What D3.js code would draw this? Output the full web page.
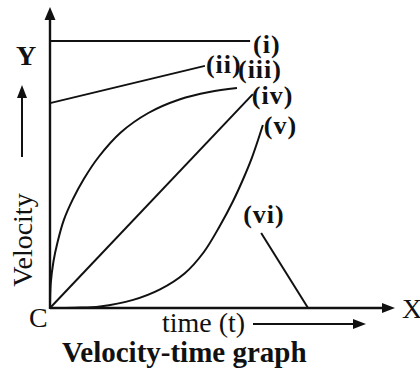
<!DOCTYPE html>
<html>
<head>
<meta charset="utf-8">
<script src="https://cdn.jsdelivr.net/npm/d3@7"></script>
<style>
  html, body { margin: 0; padding: 0; background: #fff; }
  svg { display: block; }
  text { font-family: "Liberation Serif", "Times New Roman", serif; fill: #111; }
</style>
</head>
<body>
<svg id="chart" width="420" height="371"></svg>
<script>
// Velocity (v) against time (t), arbitrary units
const curveNames = ["(i)", "(ii)", "(iii)", "(iv)", "(v)", "(vi)"];

// (i) constant velocity
const seriesI = [[0, 8.9], [5.8, 8.9]];
// (ii) uniform acceleration from a non-zero initial velocity
const seriesII = [[0, 6.83], [4.49, 8.07]];
// (iii) decreasing acceleration from rest
const seriesIII = [
  [0, 0], [0.02, 0.8], [0.1, 1.55], [0.22, 2.2], [0.4, 2.93], [0.66, 3.62],
  [0.98, 4.3], [1.42, 5.05], [2.05, 5.85], [2.85, 6.5], [3.75, 6.95],
  [4.62, 7.2], [5.42, 7.33]
];
// (iv) uniform acceleration from rest
const seriesIV = [[0, 0], [5.88, 7.13]];
// (v) increasing acceleration from rest
const seriesV = [
  [0, 0], [0.72, 0.01], [1.45, 0.05], [2.41, 0.27], [3.19, 0.62], [3.9, 1.15],
  [4.45, 1.85], [4.93, 2.75], [5.3, 3.55], [5.6, 4.3], [5.84, 4.97],
  [6.03, 5.6], [6.17, 6.1]
];
// (vi) uniform retardation
const seriesVI = [[6.12, 2.5], [7.48, 0]];

const axisTitleX = "time (t)";
const axisTitleY = "Velocity";
const chartTitle = "Velocity-time graph";

const svg = d3.select("#chart");
const x = d3.scaleLinear().domain([0, 10]).range([50, 395]);
const y = d3.scaleLinear().domain([0, 10]).range([308, 8]);
const ink = "#111";

// axes with arrowheads
svg.append("line").attr("x1", x(0)).attr("y1", y(0)).attr("x2", x(10) - 8).attr("y2", y(0))
  .attr("stroke", ink).attr("stroke-width", 2.4);
svg.append("line").attr("x1", x(0)).attr("y1", y(0) + 1).attr("x2", x(0)).attr("y2", y(10) + 8)
  .attr("stroke", ink).attr("stroke-width", 2.4);

function arrowHead(tx, ty, dir, len, half) {
  let p;
  if (dir === "right") p = [[tx, ty], [tx - len, ty - half], [tx - len, ty + half]];
  else p = [[tx, ty], [tx - half, ty + len], [tx + half, ty + len]];
  svg.append("path").attr("d", "M" + p.map(d => d.join(",")).join("L") + "Z").attr("fill", ink);
}
arrowHead(x(10), y(0), "right", 13, 5);
arrowHead(x(0), y(10) - 1, "up", 13, 5.5);

// curves
const line = d3.line().x(d => x(d[0])).y(d => y(d[1]));
const smooth = d3.line().x(d => x(d[0])).y(d => y(d[1])).curve(d3.curveCatmullRom.alpha(0.5));
const series = [
  { data: seriesI, gen: line, end: "last", dx: 3, dy: 12 },
  { data: seriesII, gen: line, end: "last", dx: 1, dy: 7 },
  { data: seriesIII, gen: smooth, end: "last", dx: 1, dy: -10 },
  { data: seriesIV, gen: line, end: "last", dx: -1, dy: 10 },
  { data: seriesV, gen: smooth, end: "last", dx: 1, dy: 9 },
  { data: seriesVI, gen: line, end: "first", dx: -18, dy: -10 }
];

series.forEach((s, i) => {
  svg.append("path").attr("d", s.gen(s.data))
    .attr("fill", "none").attr("stroke", ink).attr("stroke-width", 2);
  const p = s.end === "last" ? s.data[s.data.length - 1] : s.data[0];
  svg.append("text")
    .attr("x", x(p[0]) + s.dx).attr("y", y(p[1]) + s.dy)
    .attr("font-size", 26).attr("font-weight", "bold")
    .attr("letter-spacing", 1)
    .text(curveNames[i]);
});

// axis letters
svg.append("text").attr("x", 16).attr("y", 65).attr("font-size", 28).attr("font-weight", "bold").text("Y");
svg.append("text").attr("x", 402).attr("y", 318).attr("font-size", 28).text("X");
svg.append("text").attr("x", 29).attr("y", 327).attr("font-size", 28).text("C");

// y title with upward arrow
svg.append("text").attr("transform", "translate(32,240) rotate(-90)")
  .attr("text-anchor", "middle").attr("font-size", 28).text(axisTitleY);
svg.append("line").attr("x1", 22).attr("y1", 157).attr("x2", 22).attr("y2", 95)
  .attr("stroke", ink).attr("stroke-width", 2);
svg.append("path").attr("d", "M22,85L17,98L27,98Z").attr("fill", ink);

// x title with arrow
svg.append("text").attr("x", 162).attr("y", 332).attr("font-size", 28).text(axisTitleX);
svg.append("line").attr("x1", 253).attr("y1", 324).attr("x2", 356).attr("y2", 324)
  .attr("stroke", ink).attr("stroke-width", 2);
svg.append("path").attr("d", "M366,324L353,319L353,329Z").attr("fill", ink);

// caption
svg.append("text").attr("x", 62).attr("y", 362).attr("font-size", 29).attr("font-weight", "bold").text(chartTitle);
</script>
</body>
</html>
